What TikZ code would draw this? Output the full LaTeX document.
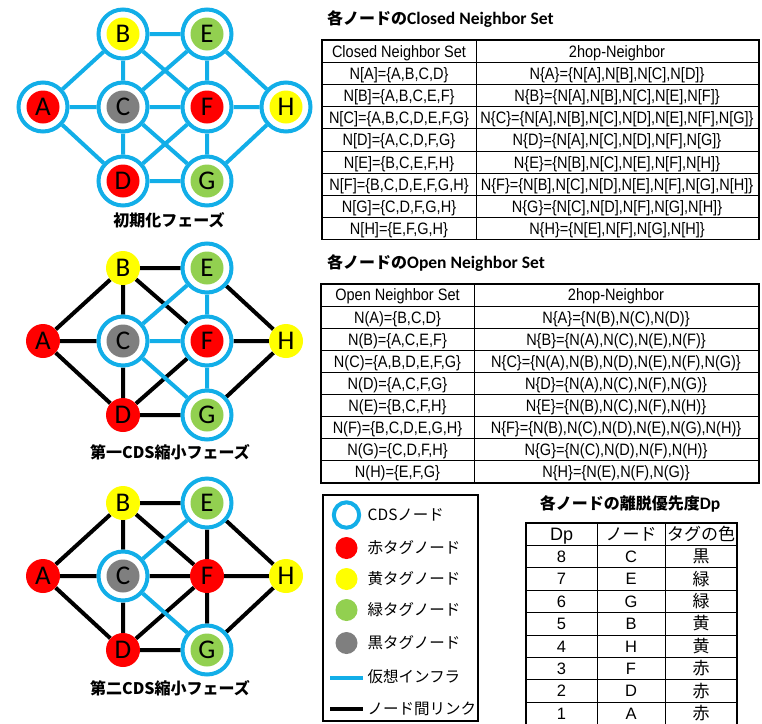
\documentclass[tikz,border=0pt]{standalone}
\usepackage{fontspec}
\setmainfont{Liberation Sans}
\newfontfamily\jp{Noto Sans CJK JP}
\newfontfamily\cellfont[FakeStretch=0.88]{Liberation Sans}
\newfontfamily\lettfont{Carlito}
\definecolor{cdsblue}{HTML}{12AEE8}
\definecolor{tred}{HTML}{FF0000}
\definecolor{tyellow}{HTML}{FFFF00}
\definecolor{tgreen}{HTML}{92D050}
\definecolor{tgray}{HTML}{7F7F7F}
\pgfdeclarelayer{bg}
\pgfsetlayers{bg,main}
\begin{document}
\begin{tikzpicture}[x=1pt,y=-1pt,
  cdsn/.style={circle, draw=cdsblue, line width=4pt, fill=white, minimum size=49pt, inner sep=0pt,
    font=\lettfont\fontsize{27}{27}\selectfont,
    path picture={\fill[#1] (path picture bounding box.center) circle[radius=16.5pt];}},
  tagn/.style={circle, fill=#1, minimum size=34pt, inner sep=0pt, font=\lettfont\fontsize{27}{27}\selectfont},
  vlink/.style={draw=cdsblue, line width=4pt},
  nlink/.style={draw=black, line width=4pt},
  phase/.style={font=\jp\bfseries\fontsize{16}{16}\selectfont, inner sep=0pt},
  ttl/.style={font=\jp\bfseries\fontsize{16}{16}\selectfont, inner sep=0pt},
  cell/.style={font=\cellfont\fontsize{16.5}{16.5}\selectfont, inner sep=0pt, text height=11.8pt, text depth=0pt},
  dcell/.style={font=\fontsize{16.5}{16.5}\selectfont, inner sep=0pt, text height=11.8pt, text depth=0pt},
  jcell/.style={font=\jp\fontsize{17}{17}\selectfont, inner sep=0pt, text height=12pt, text depth=0pt},
  legtxt/.style={font=\jp\fontsize{15.5}{15.5}\selectfont, inner sep=0pt, anchor=west},
  outer/.style={line width=1.4pt},
  inner/.style={line width=0.9pt}]
\path[use as bounding box] (0,0) rectangle (762,723);

% ---------- initialisation phase ----------
\begin{scope}
\node[cdsn=tred]    (A1) at (43,107)  {A};
\node[cdsn=tyellow] (B1) at (123,34)  {B};
\node[cdsn=tgray]   (C1) at (123,107) {C};
\node[cdsn=tred]    (D1) at (123,181) {D};
\node[cdsn=tgreen]  (E1) at (207,34)  {E};
\node[cdsn=tred]    (F1) at (207,107) {F};
\node[cdsn=tgreen]  (G1) at (207,181) {G};
\node[cdsn=tyellow] (H1) at (286,107) {H};
\begin{pgfonlayer}{bg}
\draw[vlink] (A1)--(B1) (A1)--(C1) (A1)--(D1) (B1)--(C1) (B1)--(E1) (B1)--(F1)
  (C1)--(D1) (C1)--(E1) (C1)--(F1) (C1)--(G1) (D1)--(F1) (D1)--(G1)
  (E1)--(F1) (E1)--(H1) (F1)--(G1) (F1)--(H1) (G1)--(H1);
\end{pgfonlayer}
\node[phase] (cap1) at (169,220) {初期化フェーズ};
\end{scope}

% ---------- first CDS reduction phase ----------
\begin{scope}[shift={(0,234)}]
\node[tagn=tred]    (A2) at (43,107)  {A};
\node[tagn=tyellow] (B2) at (123,34)  {B};
\node[cdsn=tgray]   (C2) at (123,107) {C};
\node[tagn=tred]    (D2) at (123,181) {D};
\node[cdsn=tgreen]  (E2) at (207,34)  {E};
\node[cdsn=tred]    (F2) at (207,107) {F};
\node[cdsn=tgreen]  (G2) at (207,181) {G};
\node[tagn=tyellow] (H2) at (286,107) {H};
\begin{pgfonlayer}{bg}
\draw[nlink] (A2)--(B2) (A2)--(C2) (A2)--(D2) (B2)--(C2) (B2)--(E2) (B2)--(F2)
  (C2)--(D2) (D2)--(F2) (D2)--(G2) (E2)--(H2) (F2)--(H2) (G2)--(H2);
\draw[vlink] (C2)--(E2) (C2)--(F2) (C2)--(G2) (E2)--(F2) (F2)--(G2);
\end{pgfonlayer}
\node[phase] (cap2) at (170,218) {第一CDS縮小フェーズ};
\end{scope}

% ---------- second CDS reduction phase ----------
\begin{scope}[shift={(0,469)}]
\node[tagn=tred]    (A3) at (43,107)  {A};
\node[tagn=tyellow] (B3) at (123,34)  {B};
\node[cdsn=tgray]   (C3) at (123,107) {C};
\node[tagn=tred]    (D3) at (123,181) {D};
\node[cdsn=tgreen]  (E3) at (207,34)  {E};
\node[tagn=tred]    (F3) at (207,107) {F};
\node[cdsn=tgreen]  (G3) at (207,181) {G};
\node[tagn=tyellow] (H3) at (286,107) {H};
\begin{pgfonlayer}{bg}
\draw[nlink] (A3)--(B3) (A3)--(C3) (A3)--(D3) (B3)--(C3) (B3)--(E3) (B3)--(F3)
  (C3)--(D3) (C3)--(F3) (D3)--(F3) (D3)--(G3) (E3)--(F3) (E3)--(H3)
  (F3)--(G3) (F3)--(H3) (G3)--(H3);
\draw[vlink] (C3)--(E3) (C3)--(G3);
\end{pgfonlayer}
\node[phase] (cap3) at (170,219) {第二CDS縮小フェーズ};
\end{scope}

% ---------- closed neighbor set table ----------
\node[ttl, anchor=west] (t1title) at (327,19) {各ノードの{\lettfont\bfseries\fontsize{17.5}{17.5}\selectfont Closed Neighbor Set}};
\draw[outer] (322,40) rectangle (759,239.6);
\draw[inner] (476,40) -- (476,239.6);
\foreach \k in {1,...,8} \draw[inner] (322,40+22.2*\k) -- (759,40+22.2*\k);
\node[cell] (t1h1) at (399,51.1) {Closed Neighbor Set};
\node[cell] (t1h2) at (617,51.1) {2hop-Neighbor};
\node[cell] (t1a1) at (399,73.3)  {N[A]=\{A,B,C,D\}};
\node[cell] (t1a2) at (617,73.3)  {N\{A\}=\{N[A],N[B],N[C],N[D]\}};
\node[cell] (t1b1) at (399,95.5)  {N[B]=\{A,B,C,E,F\}};
\node[cell] (t1b2) at (617,95.5)  {N\{B\}=\{N[A],N[B],N[C],N[E],N[F]\}};
\node[cell] (t1c1) at (399,117.7) {N[C]=\{A,B,C,D,E,F,G\}};
\node[cell] (t1c2) at (617,117.7) {N\{C\}=\{N[A],N[B],N[C],N[D],N[E],N[F],N[G]\}};
\node[cell] (t1d1) at (399,139.9) {N[D]=\{A,C,D,F,G\}};
\node[cell] (t1d2) at (617,139.9) {N\{D\}=\{N[A],N[C],N[D],N[F],N[G]\}};
\node[cell] (t1e1) at (399,162.1) {N[E]=\{B,C,E,F,H\}};
\node[cell] (t1e2) at (617,162.1) {N\{E\}=\{N[B],N[C],N[E],N[F],N[H]\}};
\node[cell] (t1f1) at (399,184.3) {N[F]=\{B,C,D,E,F,G,H\}};
\node[cell] (t1f2) at (617,184.3) {N\{F\}=\{N[B],N[C],N[D],N[E],N[F],N[G],N[H]\}};
\node[cell] (t1g1) at (399,206.5) {N[G]=\{C,D,F,G,H\}};
\node[cell] (t1g2) at (617,206.5) {N\{G\}=\{N[C],N[D],N[F],N[G],N[H]\}};
\node[cell] (t1i1) at (399,228.7) {N[H]=\{E,F,G,H\}};
\node[cell] (t1i2) at (617,228.7) {N\{H\}=\{N[E],N[F],N[G],N[H]\}};

% ---------- open neighbor set table ----------
\node[ttl, anchor=west] (t2title) at (327,263) {各ノードの{\lettfont\bfseries\fontsize{17.5}{17.5}\selectfont Open Neighbor Set}};
\draw[outer] (321,284) rectangle (759,482.9);
\draw[inner] (474,284) -- (474,482.9);
\foreach \k in {1,...,8} \draw[inner] (321,284+22.1*\k) -- (759,284+22.1*\k);
\node[cell] (t2h1) at (397.5,295.05) {Open Neighbor Set};
\node[cell] (t2h2) at (616,295.05)   {2hop-Neighbor};
\node[cell] (t2a1) at (397.5,317.15) {N(A)=\{B,C,D\}};
\node[cell] (t2a2) at (616,317.15)   {N\{A\}=\{N(B),N(C),N(D)\}};
\node[cell] (t2b1) at (397.5,339.25) {N(B)=\{A,C,E,F\}};
\node[cell] (t2b2) at (616,339.25)   {N\{B\}=\{N(A),N(C),N(E),N(F)\}};
\node[cell] (t2c1) at (397.5,361.35) {N(C)=\{A,B,D,E,F,G\}};
\node[cell] (t2c2) at (616,361.35)   {N\{C\}=\{N(A),N(B),N(D),N(E),N(F),N(G)\}};
\node[cell] (t2d1) at (397.5,383.45) {N(D)=\{A,C,F,G\}};
\node[cell] (t2d2) at (616,383.45)   {N\{D\}=\{N(A),N(C),N(F),N(G)\}};
\node[cell] (t2e1) at (397.5,405.55) {N(E)=\{B,C,F,H\}};
\node[cell] (t2e2) at (616,405.55)   {N\{E\}=\{N(B),N(C),N(F),N(H)\}};
\node[cell] (t2f1) at (397.5,427.65) {N(F)=\{B,C,D,E,G,H\}};
\node[cell] (t2f2) at (616,427.65)   {N\{F\}=\{N(B),N(C),N(D),N(E),N(G),N(H)\}};
\node[cell] (t2g1) at (397.5,449.75) {N(G)=\{C,D,F,H\}};
\node[cell] (t2g2) at (616,449.75)   {N\{G\}=\{N(C),N(D),N(F),N(H)\}};
\node[cell] (t2i1) at (397.5,471.85) {N(H)=\{E,F,G\}};
\node[cell] (t2i2) at (616,471.85)   {N\{H\}=\{N(E),N(F),N(G)\}};

% ---------- legend ----------
\draw[line width=1.8pt] (323,495) rectangle (478,721);
\node[circle, draw=cdsblue, line width=4pt, minimum size=25.4pt, inner sep=0pt] (lcds) at (346.5,515) {};
\node[circle, fill=tred,    minimum size=22pt, inner sep=0pt] (lred) at (346.5,548) {};
\node[circle, fill=tyellow, minimum size=22pt, inner sep=0pt] (lyel) at (346.5,579) {};
\node[circle, fill=tgreen,  minimum size=22pt, inner sep=0pt] (lgrn) at (346.5,610) {};
\node[circle, fill=tgray,   minimum size=22pt, inner sep=0pt] (lgry) at (346.5,643) {};
\coordinate (lv0) at (330,677.5);
\coordinate (lv1) at (363,677.5);
\coordinate (ll0) at (330,709);
\coordinate (ll1) at (363,709);
\draw[vlink] (lv0) -- (lv1);
\draw[nlink] (ll0) -- (ll1);
\node[legtxt] (tcds) at (367.5,515) {CDSノード};
\node[legtxt] (tred) at (367.5,548) {赤タグノード};
\node[legtxt] (tyel) at (367.5,579) {黄タグノード};
\node[legtxt] (tgrn) at (367.5,610) {緑タグノード};
\node[legtxt] (tgry) at (367.5,643) {黒タグノード};
\node[legtxt] (tvir) at (367.5,677) {仮想インフラ};
\node[legtxt] (tlnk) at (367.5,709) {ノード間リンク};

% ---------- leave priority table ----------
\node[ttl] (t3title) at (630,504) {各ノードの離脱優先度{\lettfont\bfseries\fontsize{17.5}{17.5}\selectfont Dp}};
\draw[outer] (526,740) -- (526,523) -- (737,523) -- (737,740);
\draw[inner] (597,523) -- (597,740) (665,523) -- (665,740);
\foreach \k in {1,...,8} \draw[inner] (526,523+22.4*\k) -- (737,523+22.4*\k);
\node[dcell, font=\fontsize{18}{18}\selectfont] (dph) at (561.5,534.2) {Dp};
\node[jcell] (ndh) at (631,534.2) {ノード};
\node[jcell] (tgh) at (701,534.2) {タグの色};
\node[dcell] (d8) at (561.5,556.6) {8};
\node[dcell] (nC) at (631,556.6) {C};
\node[jcell] (kC) at (701,556.6) {黒};
\node[dcell] (d7) at (561.5,579) {7};
\node[dcell] (nE) at (631,579) {E};
\node[jcell] (kE) at (701,579) {緑};
\node[dcell] (d6) at (561.5,601.4) {6};
\node[dcell] (nG) at (631,601.4) {G};
\node[jcell] (kG) at (701,601.4) {緑};
\node[dcell] (d5) at (561.5,623.8) {5};
\node[dcell] (nB) at (631,623.8) {B};
\node[jcell] (kB) at (701,623.8) {黄};
\node[dcell] (d4) at (561.5,646.2) {4};
\node[dcell] (nH) at (631,646.2) {H};
\node[jcell] (kH) at (701,646.2) {黄};
\node[dcell] (d3) at (561.5,668.6) {3};
\node[dcell] (nF) at (631,668.6) {F};
\node[jcell] (kF) at (701,668.6) {赤};
\node[dcell] (d2) at (561.5,691) {2};
\node[dcell] (nD) at (631,691) {D};
\node[jcell] (kD) at (701,691) {赤};
\node[dcell] (d1) at (561.5,713.4) {1};
\node[dcell] (nA) at (631,713.4) {A};
\node[jcell] (kA) at (701,713.4) {赤};
\end{tikzpicture}
\end{document}
